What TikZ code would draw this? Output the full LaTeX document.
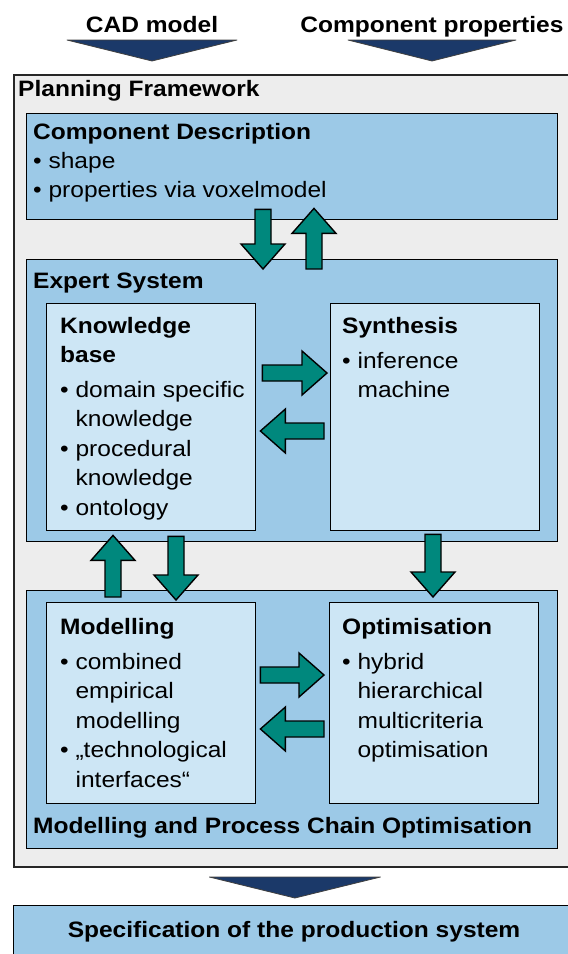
\documentclass[tikz,border=0pt]{standalone}
\usepackage{fontspec}
\setmainfont{Liberation Sans}[FakeStretch=1.1]
\usetikzlibrary{calc}

\definecolor{framegray}{HTML}{EDEDED}
\definecolor{boxblue}{HTML}{9CC9E7}
\definecolor{paleblue}{HTML}{CDE6F5}
\definecolor{arrowteal}{HTML}{00887D}
\definecolor{arrownavy}{HTML}{1B3969}

% fat arrow from #1 to #2
\newcommand{\blockarrow}[2]{%
    \coordinate (hb) at ($(#2)!25pt!(#1)$);
    \draw[TA] ($(#1)!8pt!90:(#2)$) -- ($(hb)!8pt!270:(#1)$) -- ($(hb)!22pt!270:(#1)$) -- (#2)
        -- ($(hb)!22pt!90:(#1)$) -- ($(hb)!8pt!90:(#1)$) -- ($(#1)!8pt!270:(#2)$) -- cycle;}
% flat input arrow hanging below #1
\newcommand{\navyarrow}[2]{%
    \draw[NA] ($(#1)+(-#2,0)$) -- ($(#1)+(#2,0)$) -- ($(#1)+(0,21)$) -- cycle;}

\begin{document}
\begin{tikzpicture}[x=1pt,y=-1pt]

    \tikzset{OB/.style={draw=black!85,line width=1.8pt,fill=framegray,anchor=north west,inner sep=0pt}}
    \tikzset{BB/.style={draw=black,line width=1.4pt,fill=boxblue,anchor=north west,inner sep=0pt}}
    \tikzset{LB/.style={draw=black,line width=1.4pt,fill=paleblue,anchor=north west,inner sep=0pt}}
    \tikzset{TT/.style={font=\fontsize{22.3}{29}\selectfont\bfseries,inner sep=0pt,align=left}}
    \tikzset{TX/.style={font=\fontsize{22.3}{29.5}\selectfont,inner sep=0pt,align=left}}
    \tikzset{TA/.style={draw=black,line width=1.4pt,fill=arrowteal,line join=miter}}
    \tikzset{NA/.style={draw=black!75,line width=0.8pt,fill=arrownavy,line join=round}}

    \useasboundingbox (0,0) rectangle (568,954);
    \clip (0,0) rectangle (568,954);

    % inputs
    \node[TT,anchor=base] (cad) at (152,32) {CAD model};
    \node[TT,anchor=base] (cpr) at (432,32) {Component properties};
    \coordinate (cad-a) at (cad.base |- 0,40);
    \coordinate (cpr-a) at (cpr.base |- 0,40);
    \navyarrow{cad-a}{85}
    \navyarrow{cpr-a}{84}

    % boxes
    \node[OB,minimum width=562,minimum height=792] (pf) at (13,74) {};
    	\node[BB,minimum width=531,minimum height=106] (cd) at (26,113) {};
    	\node[BB,minimum width=531,minimum height=282] (es) at (26,259) {};
    		\node[LB,minimum width=209,minimum height=227] (kb) at (46,303) {};
    		\node[LB,minimum width=209,minimum height=227] (sy) at (330,303) {};
    	\node[BB,minimum width=531,minimum height=258] (mp) at (26,590) {};
    		\node[LB,minimum width=209,minimum height=201] (mo) at (46,602) {};
    		\node[LB,minimum width=209,minimum height=201] (op) at (329,602) {};
    \node[BB,minimum width=562,minimum height=60] (sp) at (13,905) {};

    % texts (base = baseline of the last line)
    \node[TT,anchor=base west] (pf-t) at (18,96) {Planning Framework};
    \node[TT,anchor=base west] (cd-t) at (33,139) {Component Description};
    \node[TX,anchor=base west] (cd-x) at (33,197.5) {• shape\\• properties via voxelmodel};
    \node[TT,anchor=base west] (es-t) at (33,288) {Expert System};
    \node[TT,anchor=base west] (kb-t) at (60,362) {Knowledge\\base};
    \node[TX,anchor=base west] (kb-x) at (60,515) {• domain specific\\\phantom{• }knowledge\\• procedural\\\phantom{• }knowledge\\• ontology};
    \node[TT,anchor=base west] (sy-t) at (342,333) {Synthesis};
    \node[TX,anchor=base west] (sy-x) at (342,397.5) {• inference\\\phantom{• }machine};
    \node[TT,anchor=base west] (mo-t) at (60,634) {Modelling};
    \node[TX,anchor=base west] (mo-x) at (60,787) {• combined\\\phantom{• }empirical\\\phantom{• }modelling\\• „technological\\\phantom{• }interfaces“};
    \node[TT,anchor=base west] (op-t) at (342,634) {Optimisation};
    \node[TX,anchor=base west] (op-x) at (342,757.5) {• hybrid\\\phantom{• }hierarchical\\\phantom{• }multicriteria\\\phantom{• }optimisation};
    \node[TT,anchor=base west] (mp-t) at (33,833) {Modelling and Process Chain Optimisation};
    \node[TT,anchor=base] (sp-t) at (294,937) {Specification of the production system};

    % arrow ends
    \coordinate (a1s) at ($(cd.south -| 263,0)+(0,-11)$);
    \coordinate (a1e) at ($(es.north -| 263,0)+(0,10)$);
    \coordinate (a2s) at ($(es.north -| 314,0)+(0,10)$);
    \coordinate (a2e) at ($(cd.south -| 314,0)+(0,-12)$);
    \coordinate (a3s) at ($(kb.east |- 0,373)+(6,0)$);
    \coordinate (a3e) at ($(sy.west |- 0,373)+(-3,0)$);
    \coordinate (a4s) at ($(sy.west |- 0,431)+(-6,0)$);
    \coordinate (a4e) at ($(kb.east |- 0,431)+(4,0)$);
    \coordinate (a5s) at ($(mp.north -| 113,0)+(0,7)$);
    \coordinate (a5e) at ($(es.south -| 113,0)+(0,-7)$);
    \coordinate (a6s) at ($(es.south -| 176,0)+(0,-6)$);
    \coordinate (a6e) at ($(mp.north -| 176,0)+(0,10)$);
    \coordinate (a7s) at ($(es.south -| 433,0)+(0,-8)$);
    \coordinate (a7e) at ($(mp.north -| 433,0)+(0,7)$);
    \coordinate (a8s) at ($(mo.east |- 0,675)+(4,0)$);
    \coordinate (a8e) at ($(op.west |- 0,675)+(-5,0)$);
    \coordinate (a9s) at ($(op.west |- 0,729)+(-5,0)$);
    \coordinate (a9e) at ($(mo.east |- 0,729)+(4,0)$);

    \foreach \s/\e in {a1s/a1e,a2s/a2e,a3s/a3e,a4s/a4e,a5s/a5e,a6s/a6e,a7s/a7e,a8s/a8e,a9s/a9e}
        \blockarrow{\s}{\e};

    % output
    \coordinate (pf-a) at (pf.south |- 0,877);
    \navyarrow{pf-a}{85.5}
\end{tikzpicture}
\end{document}
